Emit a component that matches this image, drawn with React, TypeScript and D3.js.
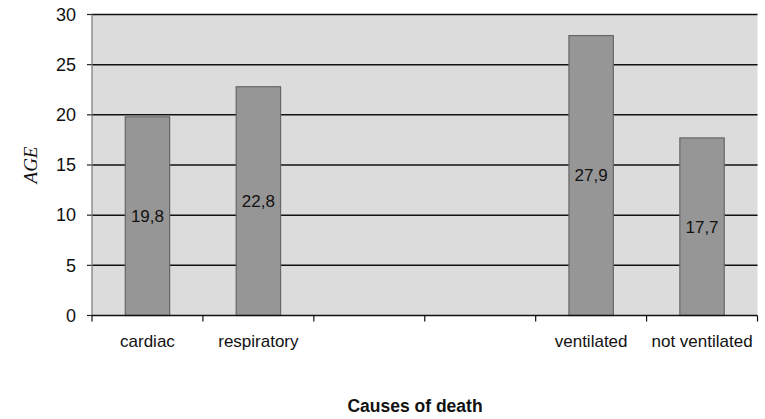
import React from "react";
import * as d3 from "d3";

const categories = ["cardiac", "respiratory", "", " ", "ventilated", "not ventilated"];
const values: (number | null)[] = [19.8, 22.8, null, null, 27.9, 17.7];
const valueLabels = ["19,8", "22,8", "", "", "27,9", "17,7"];
const yTicks = [0, 5, 10, 15, 20, 25, 30];

const W = 765;
const H = 419;
const M = { left: 92, right: 7.5, top: 14.5, bottom: 103.5 };

export default function App() {
  const x = d3
    .scaleBand<string>()
    .domain(categories)
    .range([M.left, W - M.right])
    .paddingInner(0)
    .paddingOuter(0);
  const y = d3.scaleLinear().domain([0, 30]).range([H - M.bottom, M.top]);
  const bw = x.bandwidth() * 0.4;
  const font = "'Liberation Sans', Arial, sans-serif";
  const bandEdges = categories.map((c) => x(c) as number).concat([W - M.right]);

  return (
    <svg
      width={W}
      height={H}
      style={{ position: "absolute", left: 0, top: 0, background: "#fff" }}
    >
      <rect
        x={M.left}
        y={M.top}
        width={W - M.left - M.right}
        height={H - M.top - M.bottom}
        fill="#dcdcdc"
      />
      {yTicks.map((t) => (
        <g key={t}>
          {t > 0 && (
            <line
              x1={M.left}
              x2={W - M.right}
              y1={y(t)}
              y2={y(t)}
              stroke="#111"
              strokeWidth={1.5}
            />
          )}
          <line x1={M.left - 5} x2={M.left} y1={y(t)} y2={y(t)} stroke="#222" strokeWidth={1.2} />
          <text
            x={M.left - 16}
            y={y(t)}
            dy="0.35em"
            textAnchor="end"
            fontFamily={font}
            fontSize={18}
            fill="#111"
          >
            {t}
          </text>
        </g>
      ))}
      {categories.map((c, i) => {
        const v = values[i];
        if (v == null) return null;
        const cx = (x(c) as number) + x.bandwidth() / 2;
        return (
          <g key={i}>
            <rect
              x={cx - bw / 2}
              y={y(v)}
              width={bw}
              height={y(0) - y(v)}
              fill="#969696"
              stroke="#666"
              strokeWidth={1.2}
            />
            <text
              x={cx}
              y={(y(v) + y(0)) / 2}
              dy="0.35em"
              textAnchor="middle"
              fontFamily={font}
              fontSize={17}
              fill="#111"
            >
              {valueLabels[i]}
            </text>
          </g>
        );
      })}
      <line x1={M.left} x2={M.left} y1={M.top} y2={y(0)} stroke="#777" strokeWidth={1.2} />
      <line x1={M.left} x2={W - M.right} y1={y(0)} y2={y(0)} stroke="#111" strokeWidth={1.5} />
      {bandEdges.map((e, i) => (
        <line key={i} x1={e} x2={e} y1={y(0)} y2={y(0) + 6} stroke="#111" strokeWidth={1.2} />
      ))}
      {categories.map((c, i) => (
        <text
          key={i}
          x={(x(c) as number) + x.bandwidth() / 2}
          y={347}
          textAnchor="middle"
          fontFamily={font}
          fontSize={17}
          fill="#111"
        >
          {c.trim()}
        </text>
      ))}
      <text
        x={415}
        y={412}
        textAnchor="middle"
        fontFamily={font}
        fontSize={17.5}
        fontWeight="bold"
        fill="#111"
      >
        Causes of death
      </text>
      <text
        transform={`translate(37,${y(15)}) rotate(-90)`}
        textAnchor="middle"
        fontFamily="'Liberation Serif', 'Times New Roman', serif"
        fontStyle="italic"
        fontSize={19}
        fill="#111"
      >
        AGE
      </text>
    </svg>
  );
}
